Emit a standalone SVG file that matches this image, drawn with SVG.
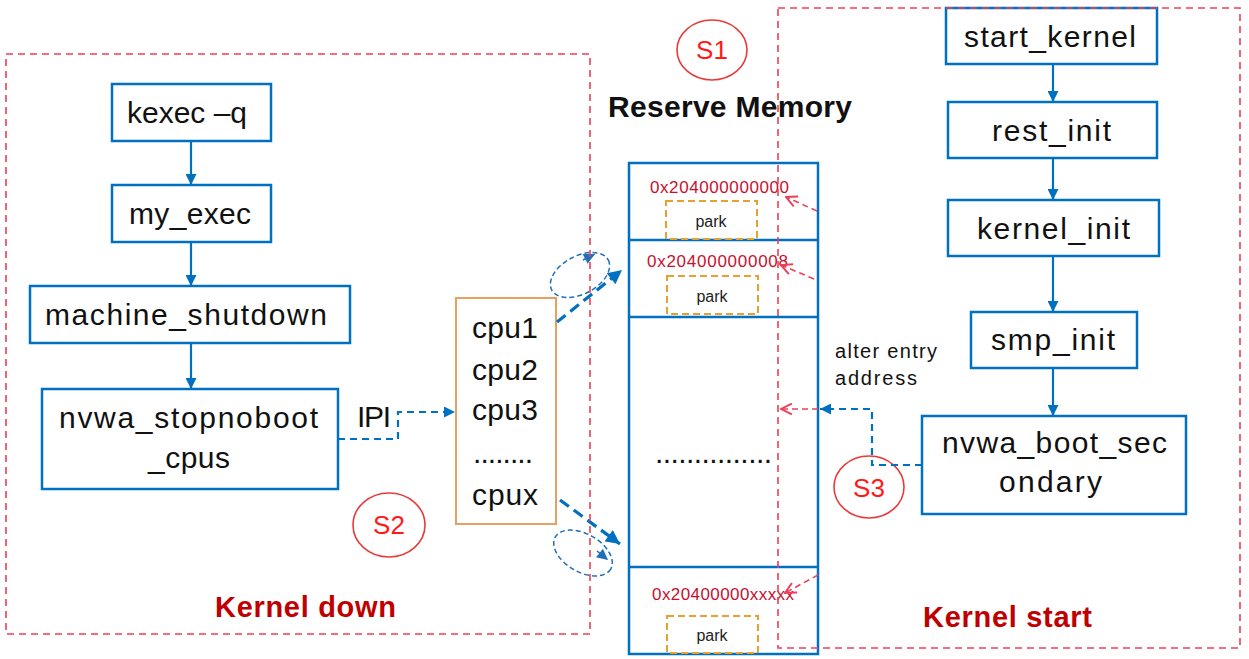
<svg xmlns="http://www.w3.org/2000/svg" width="1249" height="659" viewBox="0 0 1249 659">
<style>
.box{fill:#fff;stroke:#0070c0;stroke-width:2.5}
.t{font-family:"Liberation Sans",Arial,sans-serif;font-size:30px;fill:#111}
.addr{font-family:"Liberation Sans",Arial,sans-serif;font-size:17px;fill:#c8102e}
.park{fill:none;stroke:#e8a030;stroke-width:2;stroke-dasharray:7 4}
.pt{font-family:"Liberation Sans",Arial,sans-serif;font-size:16px;fill:#222}
.grp{fill:none;stroke:#ec4058;stroke-width:1.6;stroke-dasharray:7 5}
.sc{fill:none;stroke:#e83a3a;stroke-width:1.6}
.st{font-family:"Liberation Sans",Arial,sans-serif;font-size:26px;fill:#ff1a1a}
.kt{font-family:"Liberation Sans",Arial,sans-serif;font-size:29px;font-weight:bold;fill:#c00000}
.flow{stroke:#0070c0;stroke-width:2.2;fill:none}
.bdash{stroke:#0070c0;stroke-width:3.2;fill:none;stroke-dasharray:11 6}
.tdash{stroke:#0070c0;stroke-width:2.2;fill:none;stroke-dasharray:7 5}
.edash{stroke:#1f70b8;stroke-width:1.5;fill:none;stroke-dasharray:5 3}
.rdash{stroke:#ec4058;stroke-width:1.6;fill:none;stroke-dasharray:6 4}
</style>
<defs>
<marker id="ah" viewBox="0 0 10 10" refX="10" refY="5" markerWidth="11" markerHeight="11" markerUnits="userSpaceOnUse" orient="auto"><path d="M0,0 L10,5 L0,10 z" fill="#0070c0"/></marker>
<marker id="ahb" viewBox="0 0 10 10" refX="10" refY="5" markerWidth="15" markerHeight="14" markerUnits="userSpaceOnUse" orient="auto"><path d="M0,0 L10,5 L0,10 z" fill="#0070c0"/></marker>
<marker id="ahs" viewBox="0 0 10 10" refX="10" refY="5" markerWidth="12" markerHeight="11" markerUnits="userSpaceOnUse" orient="auto"><path d="M0,0 L10,5 L0,10 z" fill="#1f70b8"/></marker>
<marker id="oa" viewBox="0 0 12 12" refX="11" refY="6" markerWidth="13" markerHeight="13" markerUnits="userSpaceOnUse" orient="auto"><path d="M1,1 L11,6 L1,11" fill="none" stroke="#ec4058" stroke-width="1.8"/></marker>
</defs>
<rect width="1249" height="659" fill="#fff"/>

<!-- Memory column -->
<g id="reserve-memory">
<text x="608" y="117" font-family="'Liberation Sans',Arial,sans-serif" font-size="30" font-weight="bold" fill="#111" textLength="244">Reserve Memory</text>
<rect x="629" y="163" width="189" height="491" class="box"/>
<line x1="629" y1="240" x2="818" y2="240" stroke="#0070c0" stroke-width="2.5"/>
<line x1="629" y1="317" x2="818" y2="317" stroke="#0070c0" stroke-width="2.5"/>
<line x1="629" y1="567" x2="818" y2="567" stroke="#0070c0" stroke-width="2.5"/>
<text x="650" y="193" class="addr" textLength="139">0x204000000000</text>
<rect x="666" y="201" width="91" height="38" class="park"/>
<text x="711" y="227" class="pt" text-anchor="middle">park</text>
<text x="647" y="267" class="addr" textLength="141">0x204000000008</text>
<rect x="667" y="276" width="91" height="38" class="park"/>
<text x="712" y="302" class="pt" text-anchor="middle">park</text>
<text x="655" y="463" class="t" font-size="28" textLength="117">...............</text>
<text x="652" y="600" class="addr" textLength="142">0x20400000xxxxx</text>
<rect x="667" y="616" width="91" height="37" class="park"/>
<text x="712" y="641" class="pt" text-anchor="middle">park</text>
</g>

<!-- Left chain -->
<g id="kexec"><rect x="112" y="84" width="159" height="57" class="box"/><text x="127" y="123" class="t" textLength="120">kexec –q</text></g>
<g id="my_exec"><rect x="112" y="185" width="159" height="57" class="box"/><text x="129" y="224" class="t" textLength="122">my_exec</text></g>
<g id="machine_shutdown"><rect x="30" y="286" width="320" height="57" class="box"/><text x="45" y="325" class="t" textLength="282">machine_shutdown</text></g>
<g id="nvwa_stopnoboot_cpus"><rect x="42" y="389" width="296" height="100" class="box"/><text x="59" y="428" class="t" textLength="259">nvwa_stopnoboot</text><text x="148" y="468" class="t" textLength="82">_cpus</text></g>

<g id="cpus">
<rect x="456" y="298" width="100" height="226" fill="#fff" stroke="#e8a060" stroke-width="2"/>
<text x="472" y="338" class="t" font-size="28" textLength="66">cpu1</text>
<text x="472" y="380" class="t" font-size="28" textLength="66">cpu2</text>
<text x="472" y="420" class="t" font-size="28" textLength="66">cpu3</text>
<text x="473" y="463" class="t" font-size="28" textLength="60">........</text>
<text x="472" y="505" class="t" font-size="28" textLength="66">cpux</text>
</g>

<!-- Right chain -->
<g id="start_kernel"><rect x="946" y="8" width="211" height="56" class="box"/><text x="964" y="47" class="t" textLength="172">start_kernel</text></g>
<g id="rest_init"><rect x="948" y="102" width="209" height="56" class="box"/><text x="992" y="141" class="t" textLength="119">rest_init</text></g>
<g id="kernel_init"><rect x="948" y="200" width="211" height="56" class="box"/><text x="977" y="239" class="t" textLength="153">kernel_init</text></g>
<g id="smp_init"><rect x="971" y="312" width="166" height="56" class="box"/><text x="991" y="350" class="t" textLength="124">smp_init</text></g>
<g id="nvwa_boot_secondary"><rect x="922" y="416" width="264" height="98" class="box"/><text x="942" y="453" class="t" textLength="225">nvwa_boot_sec</text><text x="999" y="492" class="t" textLength="103">ondary</text></g>

<!-- Labels -->
<g id="labels">
<text x="357" y="427" class="t" font-size="28" textLength="34">IPI</text>
<text x="835" y="358" font-family="'Liberation Sans',Arial,sans-serif" font-size="20" fill="#111" textLength="102">alter entry</text>
<text x="835" y="385" font-family="'Liberation Sans',Arial,sans-serif" font-size="20" fill="#111" textLength="82">address</text>
<text x="215" y="617" class="kt" textLength="181">Kernel down</text>
<text x="923" y="627" class="kt" textLength="169">Kernel start</text>
</g>

<g id="S1"><ellipse cx="712" cy="50" rx="35" ry="30" class="sc"/><text x="712" y="59" class="st" text-anchor="middle">S1</text></g>
<g id="S2"><ellipse cx="389" cy="525" rx="36" ry="32" class="sc"/><text x="389" y="534" class="st" text-anchor="middle">S2</text></g>
<g id="S3"><ellipse cx="869" cy="487" rx="35" ry="31" class="sc"/><text x="869" y="497" class="st" text-anchor="middle">S3</text></g>

<!-- Connectors -->
<g id="connectors">
<line x1="191" y1="141" x2="191" y2="185" class="flow" marker-end="url(#ah)"/>
<line x1="191" y1="242" x2="191" y2="286" class="flow" marker-end="url(#ah)"/>
<line x1="191" y1="343" x2="191" y2="389" class="flow" marker-end="url(#ah)"/>
<line x1="1053" y1="64" x2="1053" y2="102" class="flow" marker-end="url(#ah)"/>
<line x1="1053" y1="158" x2="1053" y2="200" class="flow" marker-end="url(#ah)"/>
<line x1="1053" y1="256" x2="1053" y2="312" class="flow" marker-end="url(#ah)"/>
<line x1="1053" y1="368" x2="1053" y2="416" class="flow" marker-end="url(#ah)"/>
<path d="M338,439 H398 V412 H455" class="tdash" marker-end="url(#ah)"/>
<line x1="557" y1="322" x2="622" y2="270" class="bdash" marker-end="url(#ahb)"/>
<line x1="560" y1="500" x2="620" y2="544" class="bdash" marker-end="url(#ahb)"/>
<ellipse cx="580" cy="275" rx="32" ry="19" transform="rotate(-28 580 275)" class="edash"/>
<line x1="583" y1="260" x2="595" y2="254" class="edash" marker-end="url(#ahs)"/>
<ellipse cx="583" cy="553" rx="32" ry="19" transform="rotate(30 583 553)" class="edash"/>
<line x1="597" y1="551" x2="608" y2="560" class="edash" marker-end="url(#ahs)"/>
<path d="M922,465 H872 V409 H820" class="tdash" marker-end="url(#ah)"/>
<line x1="818" y1="409" x2="781" y2="409" class="rdash" marker-end="url(#oa)"/>
<line x1="817" y1="211" x2="786" y2="197" class="rdash" marker-end="url(#oa)"/>
<line x1="814" y1="279" x2="781" y2="265" class="rdash" marker-end="url(#oa)"/>
<line x1="818" y1="575" x2="785" y2="593" class="rdash" marker-end="url(#oa)"/>
</g>

<!-- Group boundaries -->
<g id="kernel-down-group"><rect x="6" y="54" width="584" height="580" class="grp"/></g>
<g id="kernel-start-group"><rect x="778" y="8" width="462" height="640" class="grp"/></g>
</svg>
